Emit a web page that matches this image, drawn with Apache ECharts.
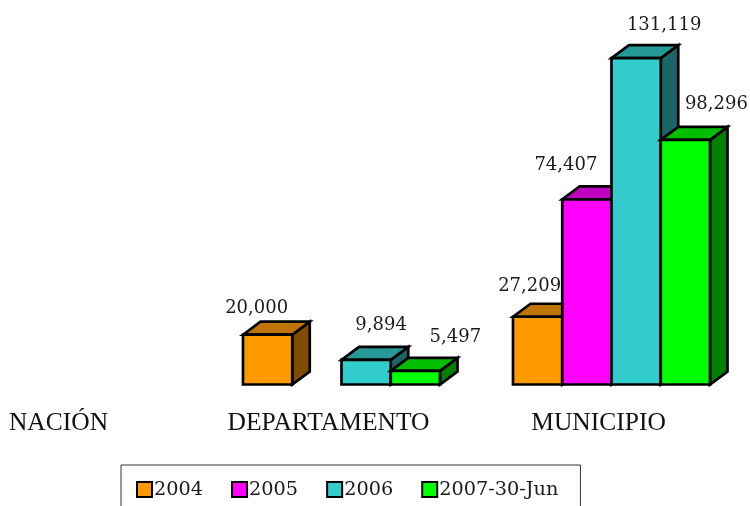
<!DOCTYPE html>
<html><head><meta charset="utf-8">
<style>html,body{margin:0;padding:0;background:#fff}#c{width:750px;height:506px;overflow:hidden}</style>
<script src="https://cdn.jsdelivr.net/npm/echarts@6/dist/echarts.min.js"></script>
</head><body><div id="c"></div>
<script>
const categories = ['NACIÓN', 'DEPARTAMENTO', 'MUNICIPIO'];
const names = ['2004', '2005', '2006', '2007-30-Jun'];
const v2004 = [null, 20000, 27209];
const v2005 = [null, null, 74407];
const v2006 = [null, 9894, 131119];
const v2007 = [null, 5497, 98296];

const palettes = [
  {front:'#ff9900', top:'#bf7300', side:'#804d00'},
  {front:'#ff00ff', top:'#bf00bf', side:'#800080'},
  {front:'#33cccc', top:'#269999', side:'#1a6666'},
  {front:'#00ff00', top:'#00bf00', side:'#008000'}
];
// hand-placed label nudges in the source chart: [series][category] -> [dx, dy] from bar front-top centre
const nudges = [
  [null, [-11,-26], [-8,-30]],
  [null, null, [-21,-34]],
  [null, [15,-35], [28,-33]],
  [null, [40,-33], [31,-35]]
];
const DX = 17.5, DY = 13, GROUP_SHIFT = 13, BAR_RATIO = 49.25/270;
const fmt = n => n.toLocaleString('en-US');

function makeRender(si){
  return function(params, api){
    const val = api.value(1);
    if (val == null || isNaN(val)) return;
    const cat = api.value(0);
    const band = api.size([1,0])[0];
    const w = band*BAR_RATIO;
    const c = api.coord([cat, val]);
    const b = api.coord([cat, 0]);
    const x0 = c[0] + GROUP_SHIFT + (si-2)*w;
    const x1 = x0 + w, yt = c[1], yb = b[1];
    const p = palettes[si];
    const st = f => ({fill:f, stroke:'#000', lineWidth:2.7, lineJoin:'miter'});
    const n = nudges[si][cat];
    return {type:'group', children:[
      {type:'polygon', shape:{points:[[x1,yt],[x1+DX,yt-DY],[x1+DX,yb-DY],[x1,yb]]}, style:st(p.side)},
      {type:'polygon', shape:{points:[[x0,yt],[x0+DX,yt-DY],[x1+DX,yt-DY],[x1,yt]]}, style:st(p.top)},
      {type:'rect', shape:{x:x0,y:yt,width:w,height:yb-yt}, style:st(p.front)},
      {type:'text', z2:100, style:{x:x0+w/2+n[0], y:yt+n[1], text:fmt(val), align:'center', verticalAlign:'middle',
        fill:'#1a1a1a', font:'18px "DejaVu Serif"'}}
    ]};
  };
}
const seriesValues = [v2004, v2005, v2006, v2007];
const option = {
  animation:false,
  backgroundColor:'#fff',
  grid:{left:58.5, right:151.5, top:36, bottom:121.5, containLabel:false},
  xAxis:{type:'category', boundaryGap:false, data:categories, axisLine:{show:false}, axisTick:{show:false},
    axisLabel:{show:true, interval:0, margin:26, color:'#111', fontFamily:'Liberation Serif', fontSize:25.5, hideOverlap:false, alignMinLabel:'center', alignMaxLabel:'center'}},
  yAxis:{type:'value', min:0, max:140000, show:false},
  legend:{show:true, left:121, top:465, data:names, icon:'rect', orient:'horizontal', padding:[15,22,40,15], itemGap:28, itemWidth:15, itemHeight:15,
    borderColor:'#333', borderWidth:1, selectedMode:false,
    textStyle:{color:'#1a1a1a', fontFamily:'DejaVu Serif', fontSize:19.3, padding:[0,0,0,-3]}},
  series: seriesValues.map((arr,si)=>({
    type:'custom', name:names[si], clip:false,
    coordinateSystem:'cartesian2d',
    itemStyle:{color:palettes[si].front, borderColor:'#000', borderWidth:2},
    encode:{x:0,y:1},
    renderItem:makeRender(si),
    data:arr.map((v,i)=>[i,v])
  }))
};
echarts.init(document.getElementById('c'),null,{renderer:'canvas'}).setOption(option);
</script></body></html>
